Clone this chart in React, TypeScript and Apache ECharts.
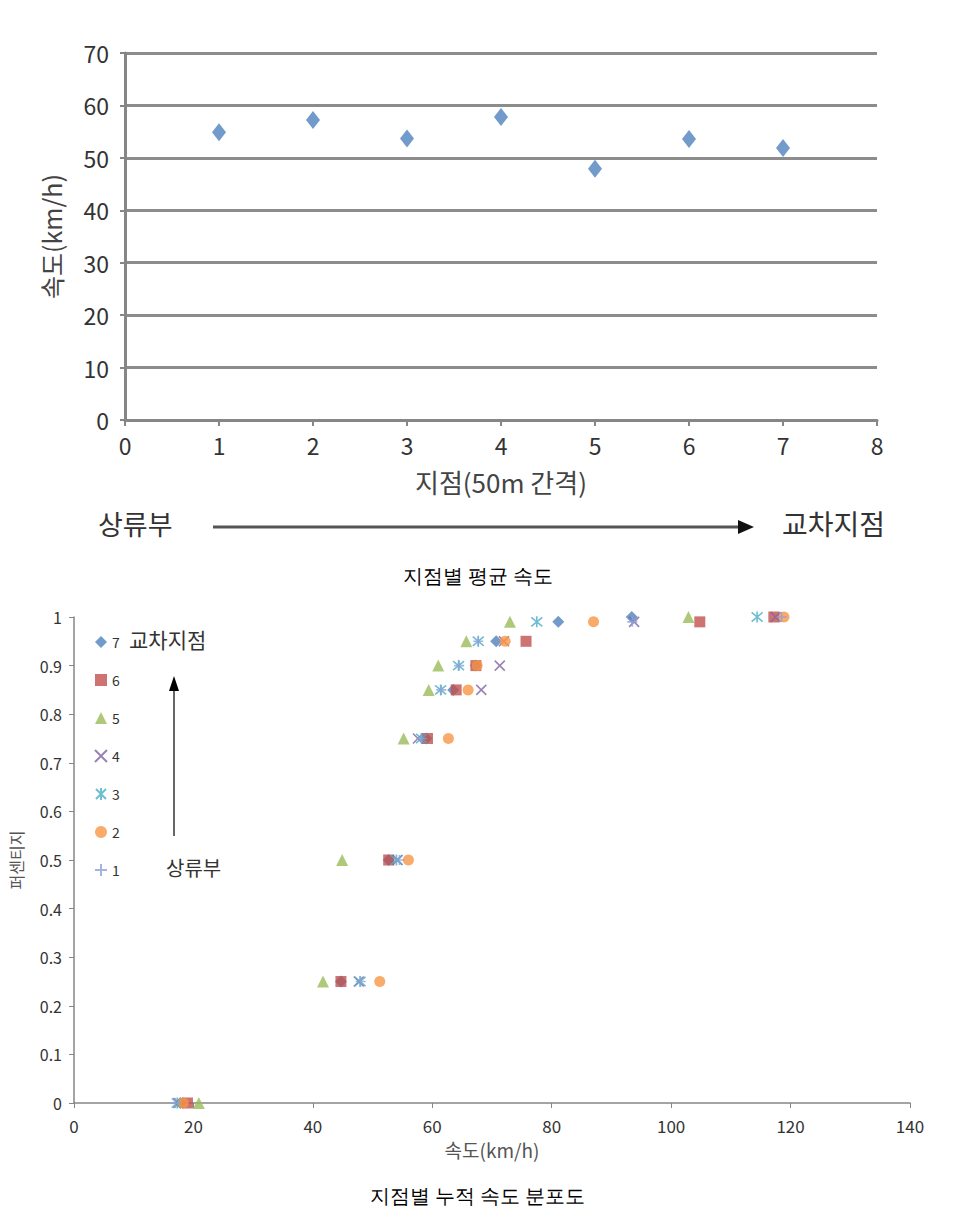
import React, { useEffect, useRef } from "react";
import * as echarts from "echarts";

// Top chart: average speed by site
const sites = [1, 2, 3, 4, 5, 6, 7];
const avgSpeed = [54.9, 57.2, 53.7, 57.8, 47.9, 53.6, 51.9];
const topXTicks = { min: 0, max: 8, interval: 1 };
const topYTicks = { min: 0, max: 70, interval: 10 };

// Bottom chart: cumulative speed distribution by site
const percentiles = [0, 0.25, 0.5, 0.75, 0.85, 0.9, 0.95, 0.99, 1];
const speed7 = [17.8, 44.7, 52.7, 59.0, 63.5, 67.3, 70.7, 81.1, 93.4];
const speed6 = [19.0, 44.7, 52.7, 59.2, 64.0, 67.3, 75.7, 104.8, 117.2];
const speed5 = [20.9, 41.7, 44.9, 55.2, 59.4, 61.0, 65.7, 73.0, 102.9];
const speed4 = [17.5, 47.7, 54.2, 57.6, 68.2, 71.3, 72.0, 93.8, 117.5];
const speed3 = [17.3, 47.9, 54.0, 58.2, 61.4, 64.4, 67.7, 77.5, 114.4];
const speed2 = [18.3, 51.2, 56.0, 62.7, 66.0, 67.5, 72.2, 87.0, 118.9];
const speed1 = [17.0, 48.0, 54.5, 58.2, 61.5, 64.5, 67.7, 93.5, 118.5];
const seriesNames = ["7", "6", "5", "4", "3", "2", "1"];

const FONT = "'Noto Sans CJK KR', 'Noto Sans', sans-serif";
const GRAY = "#868686";

export default function App() {
  const ref = useRef<HTMLDivElement>(null);
  useEffect(() => {
    document.body.style.margin = "0";
    const chart = echarts.init(ref.current!, null, { renderer: "svg" });
    const pair = (arr: number[]) => arr.map((v, i) => [v, percentiles[i]]);
    const xPath = "path://M0,0L10,10M10,0L0,10";
    const astPath = "path://M0,0L10,10M10,0L0,10M5,-1L5,11";
    const plusPath = "path://M5,0L5,10M0,5L10,5";
    const bottomSeries = [
      { name: "7", data: speed7, symbol: "diamond", size: 12, color: "#4F81BD", line: false },
      { name: "6", data: speed6, symbol: "rect", size: 11, color: "#C0504D", line: false },
      { name: "5", data: speed5, symbol: "triangle", size: 12, color: "#9BBB59", line: false },
      { name: "4", data: speed4, symbol: xPath, size: 10, color: "#8064A2", line: true },
      { name: "3", data: speed3, symbol: astPath, size: 11, color: "#4BACC6", line: true },
      { name: "2", data: speed2, symbol: "circle", size: 11, color: "#F79646", line: false },
      { name: "1", data: speed1, symbol: plusPath, size: 10, color: "#8FA0D8", line: true },
    ].map((s) => ({
      type: "scatter",
      name: s.name,
      xAxisIndex: 1,
      yAxisIndex: 1,
      data: pair(s.data),
      symbol: s.symbol,
      symbolSize: s.size,
      itemStyle: s.line
        ? { color: "rgba(0,0,0,0)", borderColor: s.color, borderWidth: 1.6 }
        : { color: s.color },
    }));

    chart.setOption({
      animation: false,
      textStyle: { fontFamily: FONT },
      grid: [
        { left: 125, top: 53, width: 752, height: 367 },
        { left: 68, top: 617, width: 842, height: 486 },
      ],
      xAxis: [
        {
          type: "value",
          gridIndex: 0,
          ...topXTicks,
          name: "지점(50m 간격)",
          nameLocation: "middle",
          nameGap: 48,
          nameTextStyle: { fontSize: 26, color: "#444", fontFamily: FONT },
          axisLine: { onZero: false, lineStyle: { color: GRAY, width: 3 } },
          axisTick: { show: true, length: 6, lineStyle: { color: GRAY, width: 2 } },
          axisLabel: { fontSize: 23, color: "#333", margin: 13, fontFamily: FONT },
          splitLine: { show: false },
        },
        {
          type: "value",
          gridIndex: 1,
          min: 0,
          max: 140,
          interval: 20,
          name: "속도(km/h)",
          nameLocation: "middle",
          nameGap: 37,
          nameTextStyle: { fontSize: 19, color: "#555", fontFamily: FONT },
          axisLine: { onZero: false, lineStyle: { color: GRAY, width: 1.5 } },
          axisTick: { show: true, length: 5, lineStyle: { color: GRAY } },
          axisLabel: { fontSize: 17, color: "#333", margin: 14, fontFamily: FONT },
          splitLine: { show: false },
        },
      ],
      yAxis: [
        {
          type: "value",
          gridIndex: 0,
          ...topYTicks,
          name: "속도(km/h)",
          nameLocation: "middle",
          nameGap: 62,
          nameTextStyle: { fontSize: 25, color: "#444", fontFamily: FONT },
          axisLine: { show: true, lineStyle: { color: GRAY, width: 3 } },
          axisTick: { show: true, length: 5, lineStyle: { color: GRAY, width: 2 } },
          axisLabel: { fontSize: 23, color: "#333", margin: 16, fontFamily: FONT },
          splitLine: { show: true, lineStyle: { color: "#8c8c8c", width: 3 } },
        },
        {
          type: "value",
          gridIndex: 1,
          min: 0,
          max: 1,
          interval: 0.1,
          name: "퍼센티지",
          nameLocation: "middle",
          nameGap: 50,
          nameTextStyle: { fontSize: 16, color: "#555", fontFamily: FONT },
          axisLine: { show: true, lineStyle: { color: GRAY, width: 1.5 } },
          axisTick: { show: true, length: 5, lineStyle: { color: GRAY } },
          axisLabel: { fontSize: 16, color: "#333", margin: 12, fontFamily: FONT },
          splitLine: { show: false },
        },
      ],
      legend: {
        data: seriesNames,
        orient: "vertical",
        left: 89,
        top: 630,
        itemWidth: 12,
        itemHeight: 12,
        itemGap: 24,
        textStyle: { fontSize: 14, color: "#333", fontFamily: FONT },
      },
      graphic: [
        { type: "text", left: 98, top: 510, style: { text: "상류부", fontSize: 27, fill: "#333", fontFamily: FONT } },
        { type: "line", shape: { x1: 213, y1: 527, x2: 740, y2: 527 }, style: { stroke: "#555", lineWidth: 3 } },
        { type: "polygon", shape: { points: [[738, 520], [754, 527], [738, 534]] }, style: { fill: "#111" } },
        { type: "text", left: 782, top: 509, style: { text: "교차지점", fontSize: 28, fill: "#333", fontFamily: FONT } },
        { type: "text", left: "center", top: 566, style: { text: "지점별 평균 속도", fontSize: 20, fill: "#000", fontFamily: "serif" } },
        { type: "text", left: 129, top: 628, style: { text: "교차지점", fontSize: 21, fill: "#333", fontFamily: FONT } },
        { type: "text", left: 166, top: 857, style: { text: "상류부", fontSize: 20, fill: "#333", fontFamily: FONT } },
        { type: "line", shape: { x1: 174, y1: 836, x2: 174, y2: 690 }, style: { stroke: "#333", lineWidth: 1.5 } },
        { type: "polygon", shape: { points: [[174, 676], [169, 691], [179, 691]] }, style: { fill: "#000" } },
        { type: "text", left: "center", top: 1186, style: { text: "지점별 누적 속도 분포도", fontSize: 20, fill: "#000", fontFamily: "serif" } },
      ],
      series: [
        {
          type: "scatter",
          name: "평균 속도",
          xAxisIndex: 0,
          yAxisIndex: 0,
          data: sites.map((s, i) => [s, avgSpeed[i]]),
          symbol: "diamond",
          symbolSize: [14, 18],
          itemStyle: { color: "#4F81BD" },
        },
        ...bottomSeries,
      ],
    });
    return () => chart.dispose();
  }, []);
  return <div ref={ref} style={{ width: 955, height: 1231 }} />;
}
